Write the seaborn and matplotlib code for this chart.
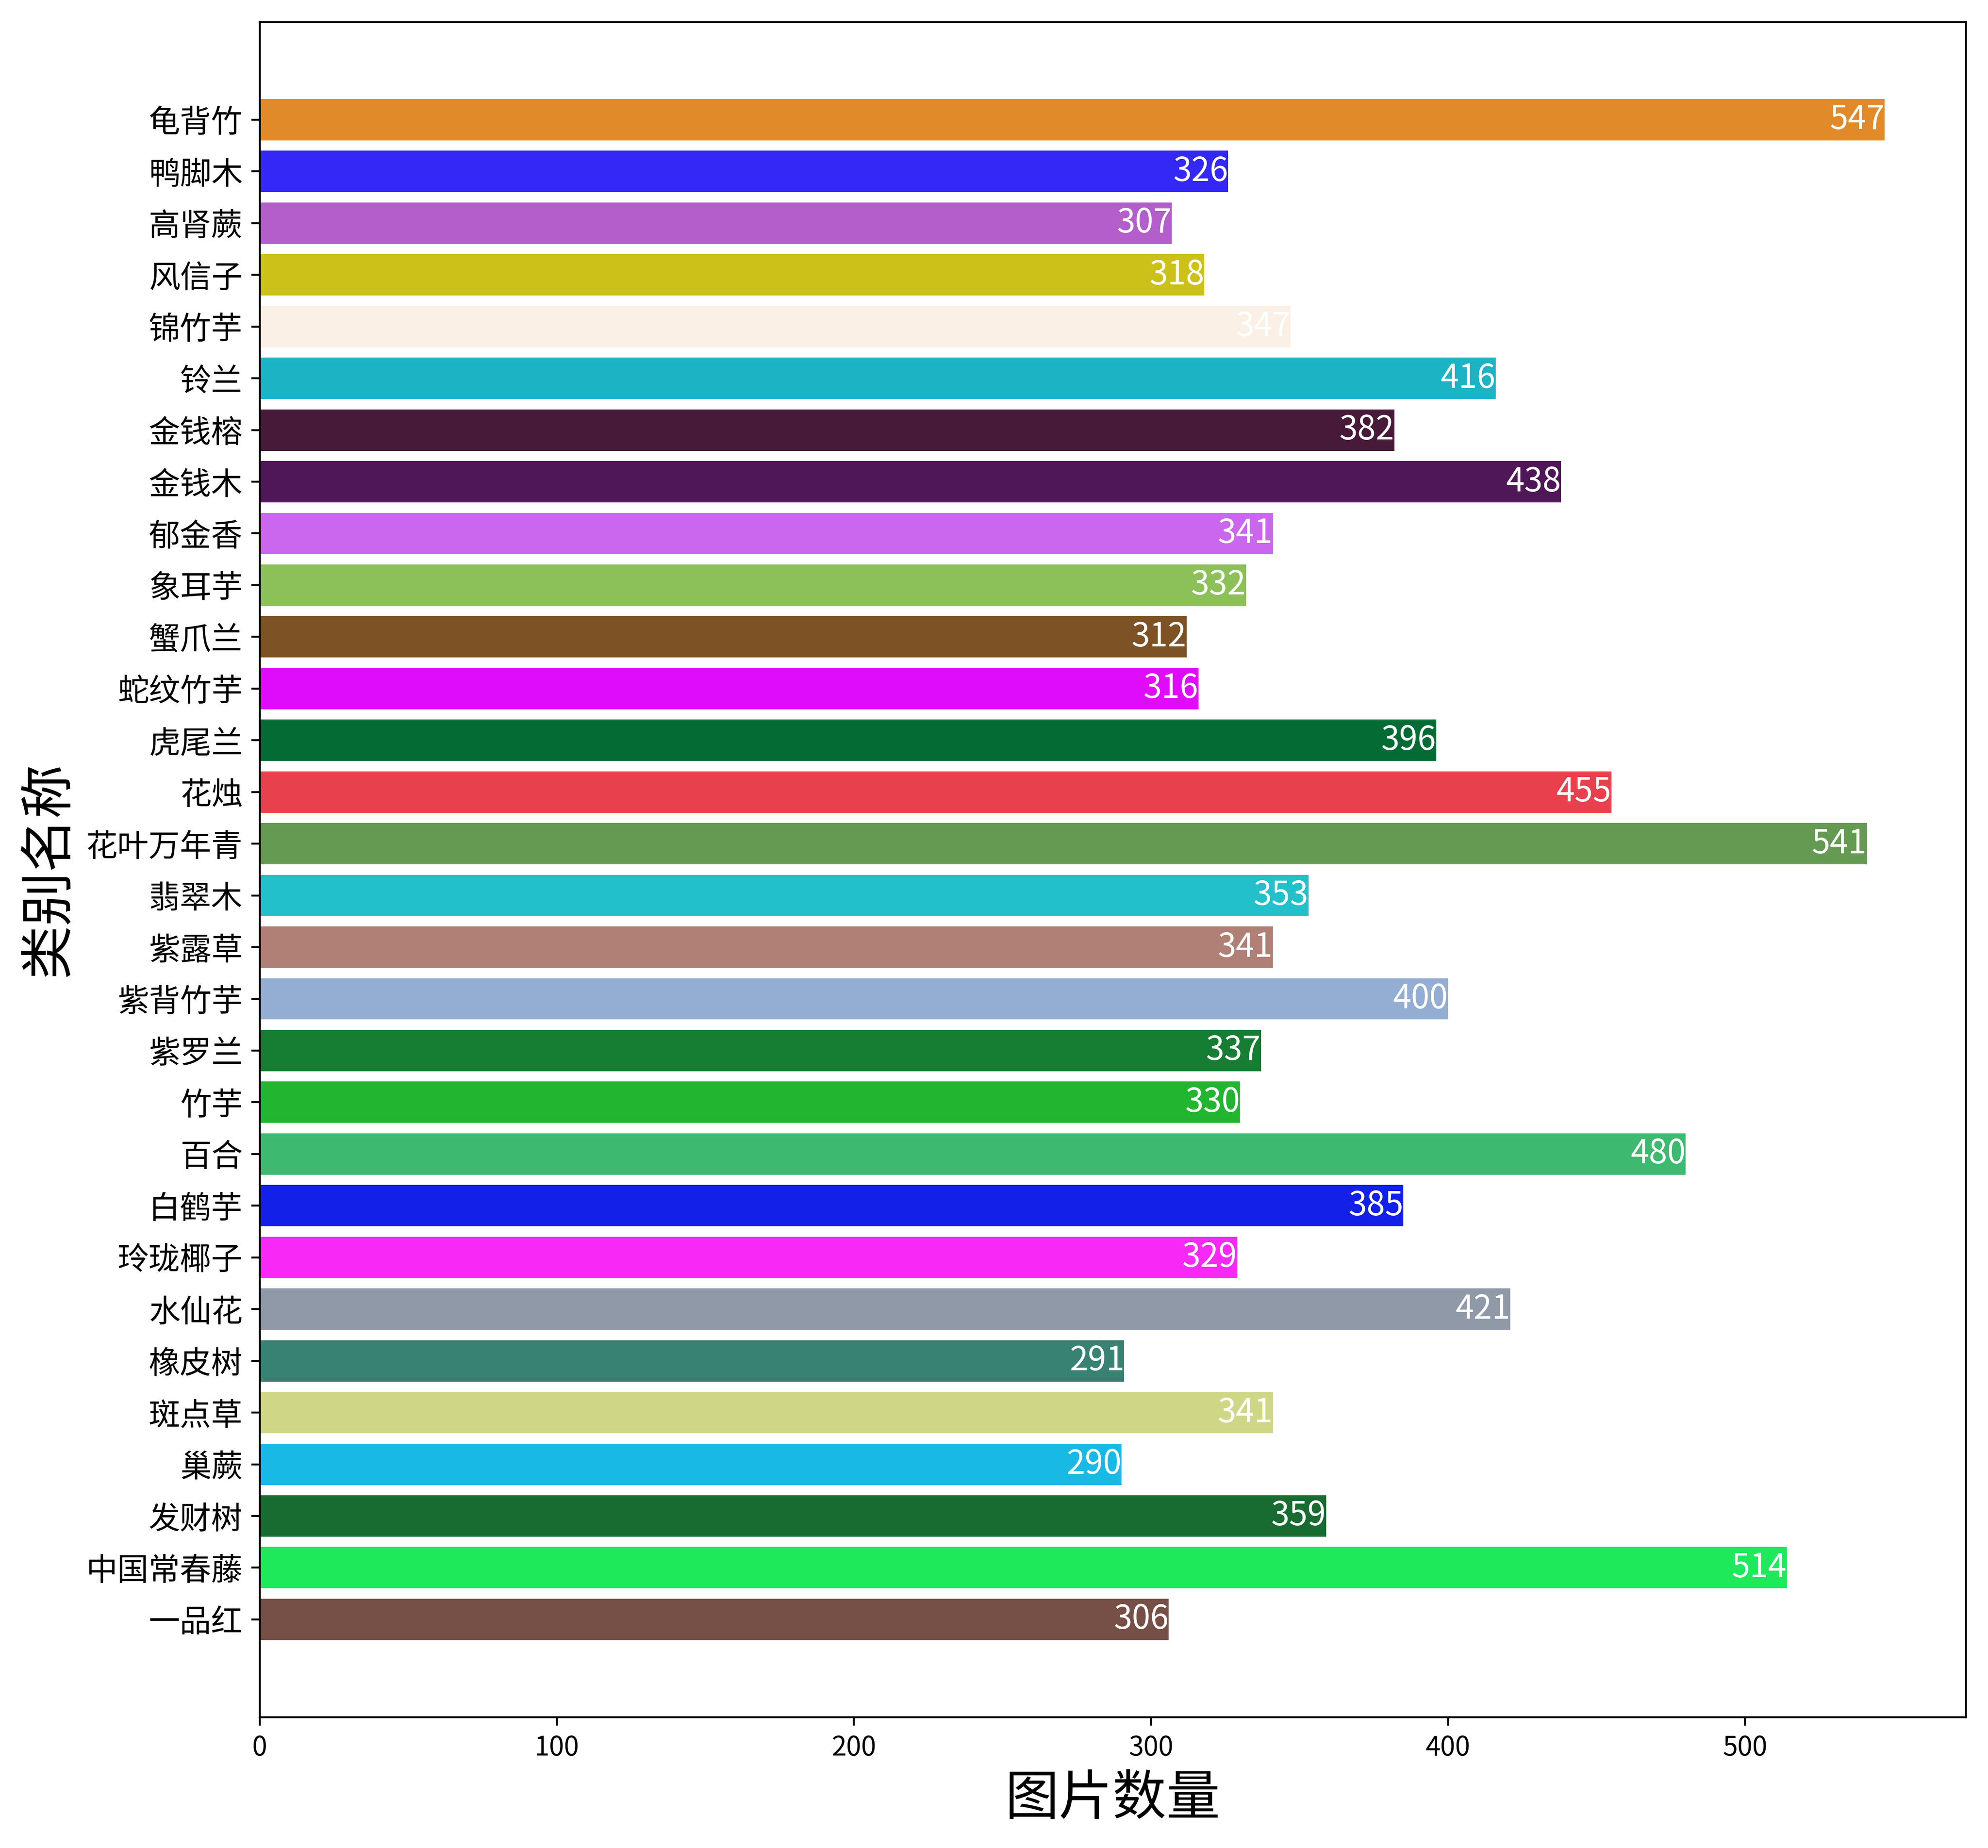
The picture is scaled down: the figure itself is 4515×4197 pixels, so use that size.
import matplotlib
matplotlib.use("Agg")
import matplotlib.pyplot as plt
import seaborn as sns
import pandas as pd

plt.rcParams['font.family'] = ['Noto Sans CJK SC', 'DejaVu Sans']
plt.rcParams['axes.unicode_minus'] = False

# top to bottom, as shown in the chart
categories = ['龟背竹', '鸭脚木', '高肾蕨', '风信子', '锦竹芋', '铃兰', '金钱榕', '金钱木',
              '郁金香', '象耳芋', '蟹爪兰', '蛇纹竹芋', '虎尾兰', '花烛', '花叶万年青', '翡翠木',
              '紫露草', '紫背竹芋', '紫罗兰', '竹芋', '百合', '白鹤芋', '玲珑椰子', '水仙花',
              '橡皮树', '斑点草', '巢蕨', '发财树', '中国常春藤', '一品红']
counts = [547, 326, 307, 318, 347, 416, 382, 438,
          341, 332, 312, 316, 396, 455, 541, 353,
          341, 400, 337, 330, 480, 385, 329, 421,
          291, 341, 290, 359, 514, 306]
bar_colors = ['#E08A2A', '#3328F5', '#B35ECB', '#CBC118', '#FBF0E5', '#1CB3C5', '#481A3A', '#4F1758',
              '#CB66EE', '#8CC058', '#7D5224', '#DF0BFB', '#046B34', '#E8404D', '#659A53', '#22C0CB',
              '#B07F75', '#94ADD2', '#167E32', '#22B630', '#3DB970', '#1320E8', '#F828F7', '#8F99A8',
              '#378272', '#CFD787', '#19B9E5', '#186B31', '#1DE95B', '#764F46']

df = pd.DataFrame({'类别': categories, '数量': counts})

fig = plt.figure(figsize=(4515 / 400, 4197 / 400), dpi=400)
ax = fig.add_axes([0.1307, 0.0708, 0.8582, 0.9173])

sns.barplot(data=df, y='类别', x='数量', hue='类别', palette=bar_colors,
            order=categories, hue_order=categories, orient='h',
            width=0.8, saturation=1, legend=False, ax=ax)

n = len(categories)
pad = 0.05 * (n - 1 + 0.8)
ax.set_ylim(n - 1 + 0.4 + pad, -0.4 - pad)
ax.set_xlim(0, max(counts) * 1.05)

for i, v in enumerate(counts):
    ax.text(v, i, str(v), color='white', ha='right', va='center', fontsize=13.5)

ax.set_xlabel('图片数量', fontsize=22)
ax.set_ylabel('类别名称', fontsize=22)
ax.tick_params(axis='y', labelsize=12.8)
ax.tick_params(axis='x', labelsize=11)

fig.savefig('out.png', dpi=400)
